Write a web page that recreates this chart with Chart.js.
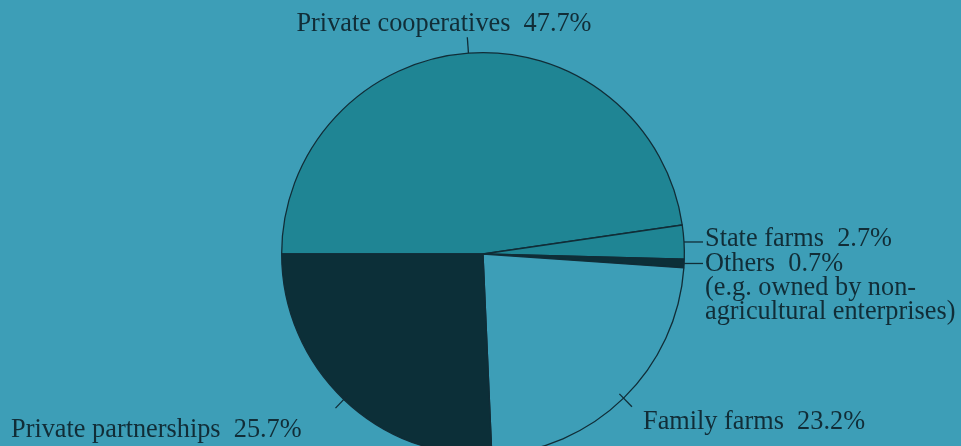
<!DOCTYPE html>
<html>
<head>
<meta charset="utf-8">
<script src="https://cdn.jsdelivr.net/npm/chart.js@4.4.1/dist/chart.umd.min.js"></script>
<style>
  html, body { margin: 0; padding: 0; background: #3d9eb7; overflow: hidden; }
  #wrap { width: 961px; height: 446px; overflow: hidden; position: relative; }
  #c { display: block; }
</style>
</head>
<body>
<div id="wrap"><canvas id="c" width="961" height="508"></canvas></div>
<script>
// Farm ownership shares (percent)
const categories = ['Private cooperatives', 'State farms', 'Others', 'Family farms', 'Private partnerships'];
const shares = [47.7, 2.7, 0.7, 23.2, 25.7];
const extraNotes = [[], [], ['(e.g. owned by non-', 'agricultural enterprises)'], [], []];

const fills = ['#1f8594', '#1f8594', '#0c2f38', '#3d9eb7', '#0c2f38'];
const ink = '#112d37';
const FONT = '26.3px "Liberation Serif", "Times New Roman", serif';
const LINE_GAP = 24;

// text anchor for each label and the kind of leader tick that points at it
const labelStyle = [
  { kind: 'radial', x: 444, y: 31, align: 'center', tickOut: 16, tickIn: 0 },
  { kind: 'side', x: 705, y: 246, align: 'left' },
  { kind: 'side', x: 705, y: 271, align: 'left' },
  { kind: 'radial', x: 643, y: 429, align: 'left', tickOut: 12, tickIn: 6 },
  { kind: 'radial', x: 11, y: 437, align: 'left', tickOut: 12, tickIn: 5 }
];

const leaderLabels = {
  id: 'leaderLabels',
  afterDatasetsDraw(chart) {
    const ctx = chart.ctx;
    const meta = chart.getDatasetMeta(0);
    ctx.save();
    ctx.font = FONT;
    ctx.fillStyle = ink;
    ctx.strokeStyle = ink;
    ctx.lineWidth = 1.3;
    ctx.textBaseline = 'alphabetic';
    meta.data.forEach((arc, i) => {
      const p = arc.getProps(['x', 'y', 'startAngle', 'endAngle', 'outerRadius'], true);
      const mid = (p.startAngle + p.endAngle) / 2;
      const s = labelStyle[i];
      ctx.beginPath();
      if (s.kind === 'side') {
        const oy = p.y + Math.sin(mid) * p.outerRadius;
        const ox = p.x + Math.cos(mid) * p.outerRadius;
        ctx.moveTo(ox, oy);
        ctx.lineTo(s.x - 2, oy);
      } else {
        const r0 = p.outerRadius - s.tickIn;
        const r1 = p.outerRadius + s.tickOut;
        ctx.moveTo(p.x + Math.cos(mid) * r0, p.y + Math.sin(mid) * r0);
        ctx.lineTo(p.x + Math.cos(mid) * r1, p.y + Math.sin(mid) * r1);
      }
      ctx.stroke();
      const text = categories[i] + '  ' + shares[i].toFixed(1) + '%';
      ctx.textAlign = s.align;
      ctx.fillText(text, s.x, s.y);
      extraNotes[i].forEach((line, k) => {
        ctx.fillText(line, s.x, s.y + LINE_GAP * (k + 1));
      });
    });
    ctx.restore();
  }
};

new Chart(document.getElementById('c'), {
  type: 'pie',
  data: {
    labels: categories,
    datasets: [{
      data: shares,
      backgroundColor: fills,
      borderColor: ink,
      borderWidth: 1.3,
      borderAlign: 'center'
    }]
  },
  options: {
    responsive: false,
    animation: false,
    rotation: -90,
    layout: { padding: { top: 52, bottom: 52, left: 5, right: 0 } },
    plugins: { legend: { display: false }, tooltip: { enabled: false } }
  },
  plugins: [leaderLabels]
});
</script>
</body>
</html>
